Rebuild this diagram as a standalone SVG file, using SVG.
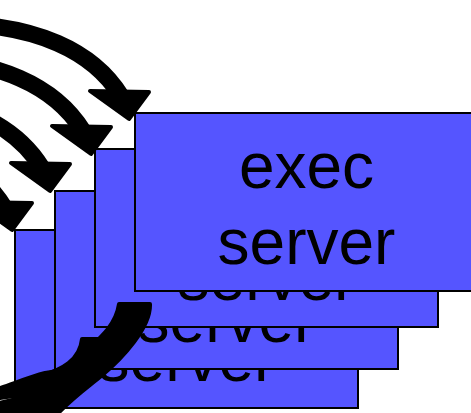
<svg xmlns="http://www.w3.org/2000/svg" width="471" height="413" viewBox="0 0 471 413">
  <style>
    .box rect { fill: #5555ff; stroke: #000; stroke-width: 2; }
    .box text { font-family: "Liberation Sans", Arial, sans-serif; font-size: 64px; text-anchor: middle; fill: #000; }
    .shaft { fill: none; stroke: #000; stroke-width: 17; }
    .head { fill: #000; stroke: #000; stroke-width: 4; stroke-linejoin: round; }
    .tail { fill: #000; stroke: #000; stroke-width: 4; stroke-linejoin: round; }
  </style>
  <defs>
    <!-- incoming request arrow, tip at (129,121) -->
    <g id="inArrow">
      <path class="shaft" d="M-20,25 C30,29 90,46 121,96"/>
      <polygon class="head" points="90,91 149,92 129,119"/>
    </g>
  </defs>
  <rect width="471" height="413" fill="#fff"/>

  <g id="server1" class="box">
    <rect x="15" y="230" width="343" height="178"/>
    <text x="186.5" y="381">server</text>
  </g>
  <g id="server2" class="box">
    <rect x="55" y="191" width="343" height="178"/>
    <text x="226.5" y="342">server</text>
  </g>
  <g id="server3" class="box">
    <rect x="95" y="149" width="343" height="178"/>
    <text x="266.5" y="300">server</text>
  </g>
  <g id="server4" class="box">
    <rect x="135" y="113" width="343" height="178"/>
    <text x="306.5" y="188">exec</text>
    <text x="306.5" y="264">server</text>
  </g>

  <g id="connectors">
    <use href="#inArrow"/>
    <use href="#inArrow" transform="translate(-38,35)"/>
    <use href="#inArrow" transform="translate(-79,72)"/>
    <use href="#inArrow" transform="translate(-117,111)"/>
    <!-- outgoing result arrows, lowest first -->
    <path class="tail" d="M45,373 L78,368 C70,382 45,392 0,398 L-8,400 L-8,389 L0,388 C15,383 30,377 45,373 Z"/>
    <path class="tail" d="M82,339 L113,339 C112,362 85,382 42,385 L40,376 C62,370 80,360 82,339 Z"/>
    <path class="tail" d="M119,304 L150,304 C151,327 123,358 100,377 C84,390 68,401 52,420 L-10,420 L-10,405 C10,401 25,397 35,392 C50,380 70,367 85,352 C100,338 116,325 119,304 Z"/>
  </g>
</svg>
